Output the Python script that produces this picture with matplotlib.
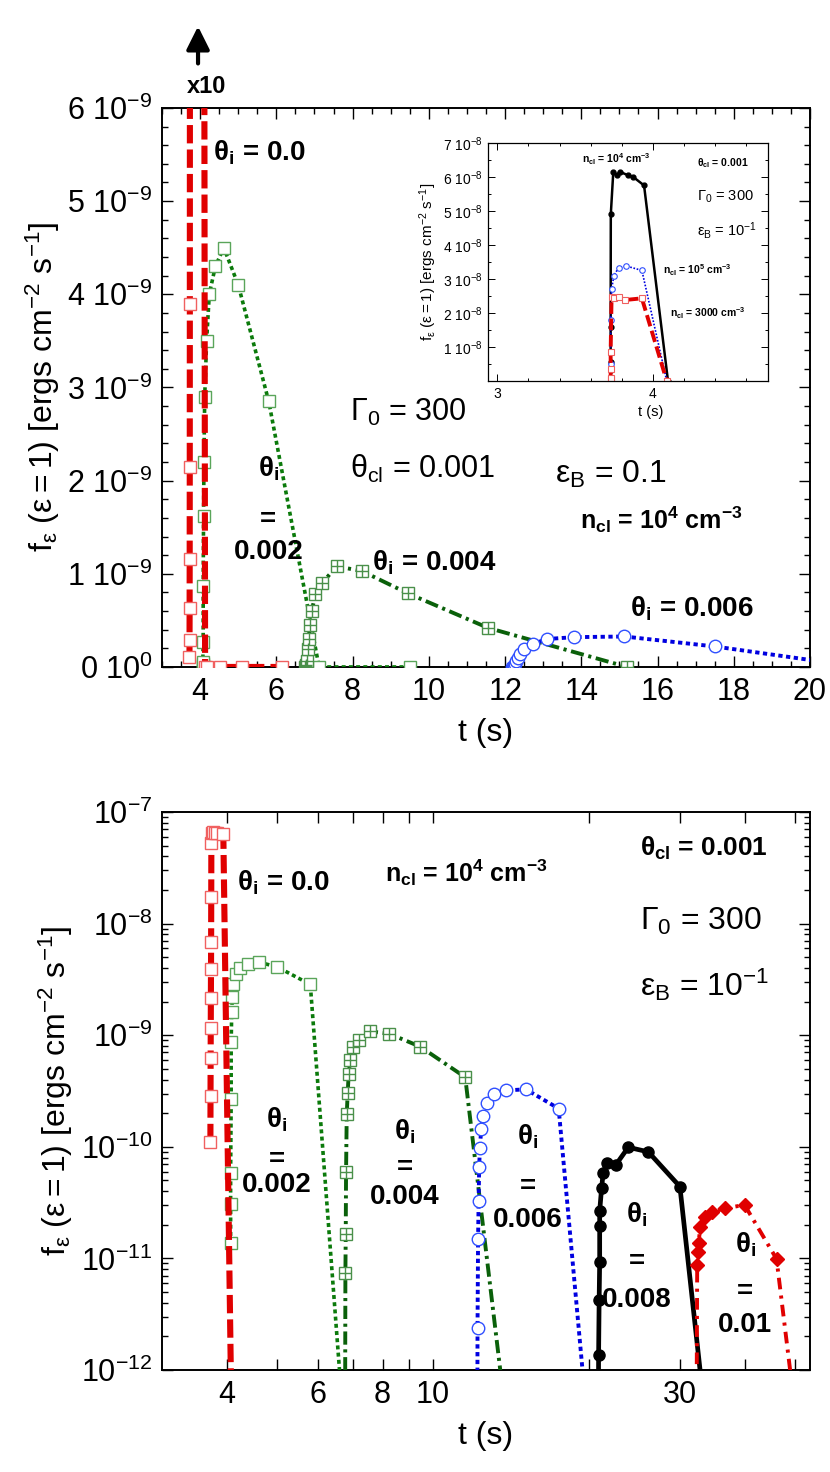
import numpy as np
import matplotlib
matplotlib.use("Agg")
import matplotlib.pyplot as plt
from matplotlib.ticker import MultipleLocator, FixedLocator, FixedFormatter, NullLocator

plt.rcParams['font.family'] = ['Liberation Sans', 'DejaVu Sans']
plt.rcParams['mathtext.fontset'] = 'custom'
plt.rcParams['mathtext.rm'] = 'Liberation Sans'
plt.rcParams['mathtext.it'] = 'Liberation Sans'
plt.rcParams['mathtext.bf'] = 'Liberation Sans:bold'
plt.rcParams['mathtext.default'] = 'regular'

# ---- light curves, theta_cl = 0.001, Gamma_0 = 300, n_cl = 1e4 ----
t_th0 = [3.720, 3.722, 3.724, 3.726, 3.728, 3.730, 3.732, 3.734, 3.736, 3.740,
         3.76, 3.79, 3.83, 3.94, 4.13, 4.18, 4.53, 5.10, 6.16]
f_th0 = [1.1e-10, 2.85e-10, 6.3e-10, 1.16e-9, 2.15e-9, 3.9e-9, 6.8e-9, 1.73e-8,
         5.3e-8, 6.5e-8, 6.6e-8, 6.5e-8, 6.5e-8, 6.3e-8, 0, 0, 0, 0, 0]

t_th2 = [4.07, 4.07, 4.07, 4.08, 4.08, 4.09, 4.10, 4.12, 4.17, 4.24, 4.40, 4.62,
         5.00, 5.80, 7.12, 9.50]
f_th2 = [1.37e-11, 3.07e-11, 5.8e-11, 2.68e-10, 8.7e-10, 1.62e-9, 2.2e-9, 2.9e-9,
         3.5e-9, 4.0e-9, 4.3e-9, 4.5e-9, 4.1e-9, 2.85e-9, 0, 0]

t_th4 = [6.76, 6.78, 6.79, 6.80, 6.82, 6.85, 6.88, 6.93, 7.02, 7.20, 7.58, 8.24,
         9.45, 11.55, 15.2]
f_th4 = [0, 7.4e-12, 1.64e-11, 5.9e-11, 1.95e-10, 3.05e-10, 4.5e-10, 6.0e-10,
         7.8e-10, 9.0e-10, 1.08e-9, 1.03e-9, 7.9e-10, 4.2e-10, 0]

t_th6 = [12.17, 12.20, 12.23, 12.26, 12.29, 12.33, 12.40, 12.50, 12.72, 13.10,
         13.82, 15.13, 17.50, 21.3]
f_th6 = [0, 2.4e-12, 1.5e-11, 3.3e-11, 6.6e-11, 9.8e-11, 1.43e-10, 1.9e-10,
         2.45e-10, 3.0e-10, 3.2e-10, 3.27e-10, 2.2e-10, 0]

t_th8 = [20.8, 20.9, 20.95, 21.0, 21.0, 21.0, 21.18, 21.33, 21.71, 22.57, 23.85,
         26.07, 30.0, 36.6]
f_th8 = [0, 1.36e-12, 4.2e-12, 9.3e-12, 1.96e-11, 2.66e-11, 4.25e-11, 5.86e-11,
         7.1e-11, 6.9e-11, 9.9e-11, 9.0e-11, 4.4e-11, 0]

t_th10 = [32.2, 32.4, 32.5, 32.6, 32.85, 33.5, 34.6, 36.6, 40.0, 46.1, 55.3]
f_th10 = [0, 8.7e-12, 1.14e-11, 1.38e-11, 1.92e-11, 2.37e-11, 2.59e-11, 2.81e-11,
          3.01e-11, 9.9e-12, 0]

# ---- inset, theta_i = 0 for three cloud densities ----
t_in_n4 = [3.729, 3.729, 3.729, 3.729, 3.730, 3.746, 3.767, 3.790, 3.840, 3.874, 3.944, 4.098]
f_in_n4 = [0.05e-8, 0.32e-8, 0.57e-8, 1.6e-8, 4.9e-8, 6.15e-8, 6.05e-8, 6.15e-8,
           6.05e-8, 6.0e-8, 5.75e-8, 0]
t_in_n5 = [3.729, 3.729, 3.729, 3.735, 3.750, 3.780, 3.830, 3.930, 4.090]
f_in_n5 = [0.1e-8, 0.5e-8, 1.8e-8, 2.7e-8, 3.1e-8, 3.33e-8, 3.38e-8, 3.25e-8, 0]
t_in_n3000 = [3.729, 3.729, 3.729, 3.729, 3.735, 3.750, 3.780, 3.820, 3.930, 4.090]
f_in_n3000 = [0.05e-8, 0.1e-8, 0.35e-8, 0.85e-8, 2.46e-8, 2.45e-8, 2.47e-8, 2.38e-8,
              2.43e-8, 0]

top_yticks = [0, 1e-9, 2e-9, 3e-9, 4e-9, 5e-9, 6e-9]
top_ylabels = ['0 $10^{0}$', '1 $10^{-9}$', '2 $10^{-9}$', '3 $10^{-9}$',
               '4 $10^{-9}$', '5 $10^{-9}$', '6 $10^{-9}$']
bot_xticks = [4, 5, 6, 7, 8, 9, 10, 20, 30, 40, 50]
bot_xlabels = ['4', '', '6', '', '8', '', '10', '', '30', '', '']
bot_yticks = [1e-12, 1e-11, 1e-10, 1e-9, 1e-8, 1e-7]
bot_ylabels = ['$10^{-12}$', '$10^{-11}$', '$10^{-10}$', '$10^{-9}$', '$10^{-8}$', '$10^{-7}$']
inset_yticks = [1e-8, 2e-8, 3e-8, 4e-8, 5e-8, 6e-8, 7e-8]
inset_ylabels = ['%d $10^{-8}$' % k for k in range(1, 8)]

RED = '#e00000'
GREEN = '#0b7a0b'
DGREEN = '#0a600a'
BLUE = '#0000e0'
YLAB = r'$f_{\epsilon}\ (\epsilon = 1)$ [ergs cm$^{-2}$ s$^{-1}$]'
FS = 22


def style_axes(ax, fs=FS, lw=1.4):
    for sp in ax.spines.values():
        sp.set_linewidth(lw)
    ax.tick_params(which='both', direction='in', top=True, right=True,
                   labelsize=fs, width=1.0)
    ax.tick_params(which='major', length=8, pad=7)
    ax.tick_params(which='minor', length=4)


def draw_curves(ax, floor=None):
    def fv(f):
        f = np.asarray(f, dtype=float)
        return f if floor is None else np.where(f > 0, f, floor)

    ax.plot(t_th2, fv(f_th2), color=GREEN, lw=2.6, dashes=(1.1, 0.9),
            marker='s', ms=9, mfc='white', mec='#5aa55a', mew=1.0, zorder=3)
    ax.plot(t_th4, fv(f_th4), color=DGREEN, lw=2.8, dashes=(3.4, 1.2, 0.8, 1.2),
            marker='s', ms=9, mfc='white', mec='#4a904a', mew=1.0, zorder=3)
    ax.plot(t_th4, fv(f_th4), ls='none', marker='+', ms=9, mec='#4a904a', mew=1.0, zorder=3)
    ax.plot(t_th6, fv(f_th6), color=BLUE, lw=2.8, dashes=(1.1, 0.9),
            marker='o', ms=9, mfc='white', mec='#3050ff', mew=1.0, zorder=3)
    ax.plot(t_th0, fv(f_th0), color=RED, lw=4.4, dashes=(3, 1.0),
            marker='s', ms=9, mfc='white', mec='#f06060', mew=1.0, zorder=4)
    if floor is not None:
        ax.plot(t_th8, fv(f_th8), color='black', lw=3.4, marker='o', ms=8,
                mfc='black', mec='black', zorder=3)
        ax.plot(t_th10, fv(f_th10), color=RED, lw=2.8, dashes=(3, 1.6, 0.8, 1.6),
                marker='D', ms=7, mfc=RED, mec=RED, zorder=3)


fig = plt.figure(figsize=(8.3, 14.72), dpi=100)

# ---------------- top panel (linear) ----------------
ax1 = fig.add_axes([0.1952, 0.5469, 0.7807, 0.3798])
draw_curves(ax1)
ax1.set_xlim(3, 20)
ax1.set_ylim(0, 6e-9)
ax1.xaxis.set_major_locator(MultipleLocator(2))
ax1.xaxis.set_minor_locator(MultipleLocator(0.5))
ax1.yaxis.set_major_locator(FixedLocator(top_yticks))
ax1.yaxis.set_major_formatter(FixedFormatter(top_ylabels))
ax1.yaxis.set_minor_locator(MultipleLocator(2e-10))
ax1.xaxis.set_major_formatter(plt.FuncFormatter(lambda v, p: '%d' % v if v >= 4 else ''))
style_axes(ax1)
ax1.set_xlabel('t (s)', fontsize=23, labelpad=8)
ax1.set_ylabel(YLAB, fontsize=23, labelpad=4)

ax1.text(0.078, 0.92, r'$\theta_{i}$ = 0.0', transform=ax1.transAxes, fontsize=20,
         fontweight='bold', va='center')
ax1.text(0.29, 0.456, r'$\Gamma_{0}$ = 300', transform=ax1.transAxes, fontsize=22, va='center')
ax1.text(0.29, 0.354, r'$\theta_{cl}$ = 0.001', transform=ax1.transAxes, fontsize=22, va='center')
ax1.text(0.606, 0.345, r'$\epsilon_{B}$ = 0.1', transform=ax1.transAxes, fontsize=23, va='center')
ax1.text(0.645, 0.263, r'n$_{cl}$ = 10$^{4}$ cm$^{-3}$', transform=ax1.transAxes,
         fontsize=18, fontweight='bold', va='center')
for txt, yy in [(r'$\theta_{i}$', 0.354), ('=', 0.263), ('0.002', 0.206)]:
    ax1.text(0.164, yy, txt, transform=ax1.transAxes, fontsize=20, fontweight='bold',
             ha='center', va='center')
ax1.text(0.324, 0.186, r'$\theta_{i}$ = 0.004', transform=ax1.transAxes, fontsize=20,
         fontweight='bold', va='center')
ax1.text(0.722, 0.104, r'$\theta_{i}$ = 0.006', transform=ax1.transAxes, fontsize=20,
         fontweight='bold', va='center')

fig.text(0.249, 0.941, 'x10', fontsize=17, fontweight='bold', ha='center', va='center')
fig.add_artist(matplotlib.patches.FancyArrowPatch(
    (0.2386, 0.955), (0.2386, 0.984), transform=fig.transFigure,
    arrowstyle='-|>,head_length=14,head_width=7', lw=3, color='black'))

# ---------------- inset ----------------
axi = fig.add_axes([0.588, 0.7412, 0.337, 0.1617])
axi.plot(t_in_n4, f_in_n4, color='black', lw=1.8, marker='o', ms=3.5, mfc='black', mec='black')
axi.plot(t_in_n5, f_in_n5, color=BLUE, lw=1.2, dashes=(1, 1), marker='o', ms=4,
         mfc='white', mec='#3050ff', mew=0.8)
axi.plot(t_in_n3000, f_in_n3000, color=RED, lw=2.8, dashes=(3, 1.2), marker='s', ms=4,
         mfc='white', mec='#f06060', mew=0.8)
axi.set_xlim(2.94, 4.74)
axi.set_ylim(0, 7e-8)
axi.xaxis.set_major_locator(FixedLocator([3, 4]))
axi.xaxis.set_minor_locator(MultipleLocator(0.2))
axi.yaxis.set_major_locator(FixedLocator(inset_yticks))
axi.yaxis.set_major_formatter(FixedFormatter(inset_ylabels))
axi.yaxis.set_minor_locator(MultipleLocator(5e-9))
style_axes(axi, fs=10, lw=0.9)
axi.tick_params(which='major', length=5, width=0.7, pad=4)
axi.tick_params(which='minor', length=2.5, width=0.7)
axi.set_xlabel('t (s)', fontsize=10.5, labelpad=2)
axi.xaxis.set_label_coords(0.58, -0.1)
axi.set_ylabel(YLAB, fontsize=11, labelpad=3)
axi.text(0.46, 0.93, r'n$_{cl}$ = 10$^{4}$ cm$^{-3}$', transform=axi.transAxes, fontsize=7.5,
         fontweight='bold', ha='center', va='center')
axi.text(0.746, 0.916, r'$\theta_{cl}$ = 0.001', transform=axi.transAxes, fontsize=7.5,
         fontweight='bold', va='center')
axi.text(0.746, 0.773, r'$\Gamma_{0}$ = 300', transform=axi.transAxes, fontsize=10.5, va='center')
axi.text(0.746, 0.634, r'$\epsilon_{B}$ = 10$^{-1}$', transform=axi.transAxes, fontsize=10.5, va='center')
axi.text(0.625, 0.466, r'n$_{cl}$ = 10$^{5}$ cm$^{-3}$', transform=axi.transAxes, fontsize=7.5,
         fontweight='bold', va='center')
axi.text(0.65, 0.286, r'n$_{cl}$ = 3000 cm$^{-3}$', transform=axi.transAxes, fontsize=7.5,
         fontweight='bold', va='center')

# ---------------- bottom panel (log-log) ----------------
ax2 = fig.add_axes([0.1952, 0.0693, 0.7807, 0.3791])
draw_curves(ax2, floor=1e-14)
ax2.set_xscale('log')
ax2.set_yscale('log')
ax2.set_xlim(3, 53.5)
ax2.set_ylim(1e-12, 1e-7)
ax2.xaxis.set_major_locator(FixedLocator(bot_xticks))
ax2.xaxis.set_major_formatter(FixedFormatter(bot_xlabels))
ax2.xaxis.set_minor_locator(NullLocator())
ax2.yaxis.set_major_locator(FixedLocator(bot_yticks))
ax2.yaxis.set_major_formatter(FixedFormatter(bot_ylabels))
ax2.yaxis.set_minor_locator(matplotlib.ticker.LogLocator(subs=np.arange(2, 10), numticks=20))
ax2.yaxis.set_minor_formatter(matplotlib.ticker.NullFormatter())
style_axes(ax2)
ax2.set_xlabel('t (s)', fontsize=23, labelpad=8)
ax2.set_ylabel(YLAB, fontsize=23, labelpad=4)

ax2.text(0.116, 0.873, r'$\theta_{i}$ = 0.0', transform=ax2.transAxes, fontsize=20,
         fontweight='bold', va='center')
ax2.text(0.344, 0.892, r'n$_{cl}$ = 10$^{4}$ cm$^{-3}$', transform=ax2.transAxes,
         fontsize=18, fontweight='bold', va='center')
ax2.text(0.738, 0.935, r'$\theta_{cl}$ = 0.001', transform=ax2.transAxes, fontsize=19,
         fontweight='bold', va='center')
ax2.text(0.738, 0.803, r'$\Gamma_{0}$ = 300', transform=ax2.transAxes, fontsize=23, va='center')
ax2.text(0.738, 0.69, r'$\epsilon_{B}$ = 10$^{-1}$', transform=ax2.transAxes, fontsize=23, va='center')

stacks = [('0.002', 0.177, (0.448, 0.376, 0.332)),
          ('0.004', 0.375, (0.427, 0.362, 0.310)),
          ('0.006', 0.565, (0.418, 0.328, 0.269)),
          ('0.008', 0.733, (0.278, 0.194, 0.125)),
          ('0.01', 0.900, (0.224, 0.140, 0.081))]
for val, xx, ys in stacks:
    for txt, yy in zip([r'$\theta_{i}$', '=', val], ys):
        ax2.text(xx, yy, txt, transform=ax2.transAxes, fontsize=20, fontweight='bold',
                 ha='center', va='center')

fig.savefig('out.png', dpi=100, facecolor='white')
